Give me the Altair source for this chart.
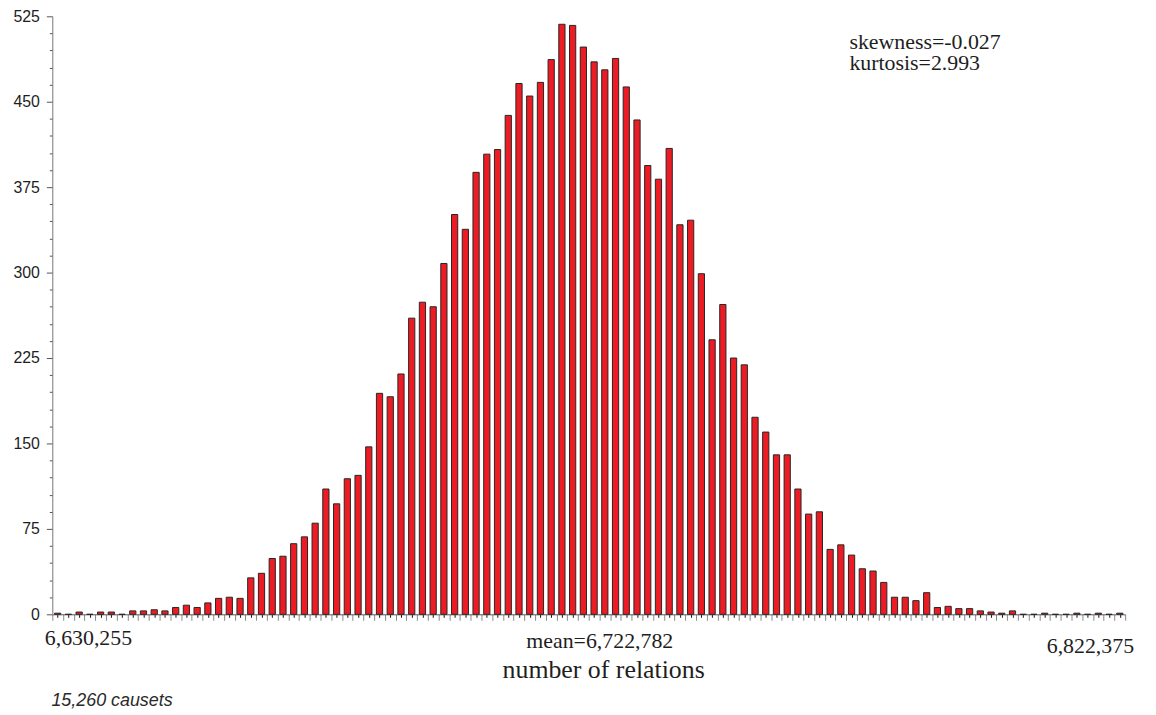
import altair as alt
import pandas as pd

# ---- data ----
counts = [1, 0, 2, 0, 2, 2, 0, 3, 3, 4,
          3, 6, 8, 6, 10, 14, 15, 14, 32, 36,
          49, 51, 62, 68, 80, 110, 97, 119, 122, 147,
          194, 191, 211, 260, 274, 270, 308, 351, 338, 388,
          404, 408, 438, 466, 455, 467, 487, 518, 517, 498,
          485, 478, 488, 463, 434, 394, 382, 409, 342, 346,
          299, 241, 272, 225, 219, 173, 160, 140, 140, 110,
          88, 90, 57, 61, 52, 40, 38, 28, 15, 15,
          12, 19, 6, 7, 5, 5, 3, 2, 1, 3,
          0, 0, 1, 0, 0, 1, 0, 1, 0, 1]
range_min = 6630255
range_max = 6822375
mean_value = 6722782
stats_lines = ["skewness=-0.027", "kurtosis=2.993"]
x_title = "number of relations"
y_tick_values = list(range(0, 526, 15))
y_label_step = 75

nbins = len(counts)
df = pd.DataFrame({"bin": list(range(nbins)), "count": counts})


def pos(v):
    return (v - range_min) / (range_max - range_min) * nbins


serif = "Liberation Serif"
sans = "Liberation Sans"
ink = "#1e1e1e"

x_scale = alt.Scale(domain=[0, nbins], nice=False, zero=False)
y_scale = alt.Scale(domain=[0, 525], nice=False)

x_axis = alt.Axis(
    values=[k / 2 for k in range(2 * nbins + 1)],
    labels=False, title=None, grid=False,
    tickSize={"condition": {"test": "datum.value % 1 === 0", "value": 6}, "value": 3},
    tickColor={"condition": {"test": "datum.value % 1 === 0", "value": "#8a8a8a"}, "value": "#111111"},
    tickWidth=1, domainColor="#555555", domainWidth=1,
)
y_axis = alt.Axis(
    values=y_tick_values,
    labelExpr=f"datum.value % {y_label_step} === 0 ? datum.label : ''",
    labelOverlap=False,
    title=None, grid=False,
    tickSize={"condition": {"test": f"datum.value % {y_label_step} === 0", "value": 6}, "value": 3},
    tickColor="#555555", tickWidth=1, domainColor="#777777", domainWidth=1,
    labelFont=sans, labelFontSize=16, labelColor=ink, labelPadding=7,
)

bars = alt.Chart(df).transform_calculate(
    x0="datum.bin + 0.21", x1="datum.bin + 0.79"
).mark_bar(fill="#ED1C24", stroke="#262626", strokeWidth=1).encode(
    x=alt.X("x0:Q", scale=x_scale, axis=x_axis),
    x2="x1:Q",
    y=alt.Y("count:Q", scale=y_scale, axis=y_axis),
    y2=alt.Y2Datum(0),
)


def axis_text(p, t, **kw):
    return alt.Chart(pd.DataFrame({"p": [p], "t": [t]})).mark_text(
        baseline="alphabetic", font=serif, color=ink, **kw
    ).encode(
        x=alt.X("p:Q", scale=x_scale, axis=x_axis),
        y=alt.YDatum(0, scale=y_scale, axis=y_axis),
        text="t:N",
    )


lab_left = axis_text(pos(range_min), f"{range_min:,}", align="left", fontSize=22, dx=-7.6, dy=30.7)
lab_mean = axis_text(pos(mean_value), f"mean={mean_value:,}", align="center", fontSize=22, dx=31, dy=33.5)
lab_right = axis_text(pos(range_max), f"{range_max:,}", align="right", fontSize=22, dx=9, dy=39)
title = axis_text(nbins / 2, x_title, align="center", fontSize=26, dx=15, dy=64)

stats_df = pd.DataFrame({"t": stats_lines, "k": [0, 1]})
stats = alt.Chart(stats_df).mark_text(
    align="left", baseline="alphabetic", font=serif, fontSize=22, color=ink
).encode(x=alt.value(802.4), y=alt.value(32.7), text="t:N").transform_filter("datum.k === 0")
stats2 = alt.Chart(stats_df).mark_text(
    align="left", baseline="alphabetic", font=serif, fontSize=22, color=ink
).encode(x=alt.value(802.4), y=alt.value(54.5), text="t:N").transform_filter("datum.k === 1")

caption = alt.Chart(pd.DataFrame({"t": [f"{sum(counts):,} causets"]})).mark_text(
    align="left", baseline="alphabetic", font=sans, fontSize=18, fontStyle="italic", color="#2a2a2a"
).encode(x=alt.value(-0.9), y=alt.value(694), text="t:N")

chart = alt.layer(bars, lab_left, lab_mean, lab_right, title, stats, stats2, caption).properties(
    width=1080, height=602,
    autosize="none",
    padding={"left": 44.6, "top": 6, "right": 23, "bottom": 99},
).configure(background="white").configure_view(stroke=None)

chart.save("out.html", embed_options={"renderer": "svg", "actions": False})
